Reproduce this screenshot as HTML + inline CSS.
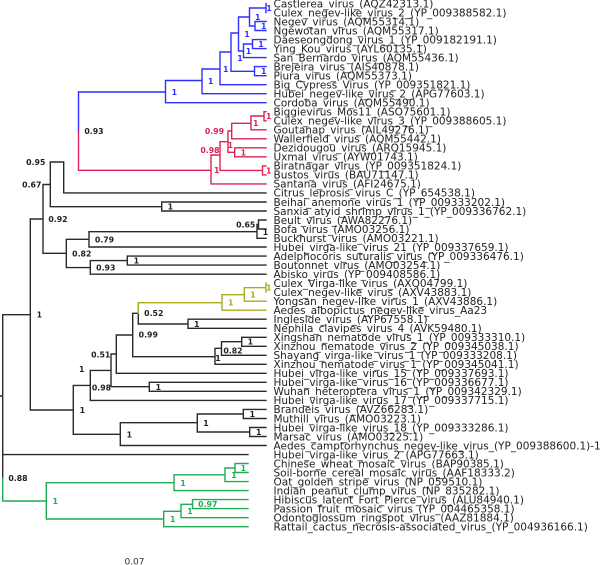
<!DOCTYPE html>
<html><head><meta charset="utf-8"><style>
html,body{margin:0;padding:0;background:#fff}
svg{display:block}
.t{font:10.5px "DejaVu Sans",sans-serif;fill:#222}
.s{font:bold 7.8px "DejaVu Sans",sans-serif}
.l{fill:none;stroke-width:1.4;stroke-linecap:square}
</style></head><body>
<svg width="600" height="565" viewBox="0 0 600 565" xmlns="http://www.w3.org/2000/svg">
<path class="l" stroke="#2a2a2a" d="M0 396H2.7M2.7 314.7V478M2.7 314.7H30.3M30.3 219V410M30.3 219H43M43 184.5V253.3M43 184.5H50.3M50.3 162V206.7M50.3 162H63.7M63.7 162V192.9H266M50.3 206.7H161.7M161.7 202V211M161.7 202H266M161.7 211H266M43 253.3H66.3M66.3 239.3V267.6M66.3 239.3H89M89 231.7V247H266M89 231.7H257M257 224.5V238.3H266M257 224.5H258.5M258.5 220V229M258.5 220H266M258.5 229H266M66.3 267.6H90.3M90.3 260.6V274.2H266M90.3 260.6H127.3M127.3 256.1V265.1M127.3 256.1H266M127.3 265.1H266M138.3 313.3V324H188M132.7 313.3V356.7M132.7 313.3H138.3M188 319.2V328.3M188 319.2H266M188 328.3H266M132.7 356.7H215M215 348.3V364.3H266M215 348.3H221.5M221.5 341.7V355.3H266M221.5 341.7H241.7M241.7 337.3V346.3M241.7 337.3H266M241.7 346.3H266M116.3 335V373.3H266M116.3 335H132.7M111 354V386.7M111 354H116.3M111 386.7H149.3M149.3 382.3V391.3M149.3 382.3H266M149.3 391.3H266M90.3 370.4V400.4H266M90.3 370.4H111M73.3 385.4V434.3M73.3 385.4H90.3M30.3 410H73.3M73.3 434.3H120.3M120.3 422.7V445.5H266M120.3 422.7H197.3M197.3 414V432M197.3 414H243.3M243.3 409.4V418.5M243.3 409.4H266M243.3 418.5H266M197.3 432H249.7M249.7 427.5V436.5M249.7 427.5H266M249.7 436.5H266M120.3 434.3H120.3M2.7 454.6H248"/>
<path class="l" stroke="#2f2fff" d="M78.5 92V131M78.5 92H165.5M165.5 80.5V102.7H266M165.5 80.5H202M202 69V93.7H266M202 69H220M220 52V84.7H266M220 52H231M231 33V71.3M231 33H238.5M238.5 17V51M238.5 17H249.5M249.5 8V26M249.5 8H266M266 3.5V12.5M249.5 26H255M255 21.5V30.5M255 21.5H266M255 30.5H266M238.5 51H243.5M243.5 44V57.6H266M243.5 44H252.5M252.5 39.6V48.6M252.5 39.6H266M252.5 48.6H266M231 71.3H254.5M254.5 66.6V75.7M254.5 66.6H266M254.5 75.7H266"/>
<path class="l" stroke="#dd2255" d="M78.5 131V170.3H211M211 155V183.9H266M211 155H220M220 141.7V170.4M220 141.7H228M228 131V152.3M228 131H231.7M231.7 123.3V138.8H266M231.7 123.3H251M251 116V129.8H266M251 116H264M264 111.7V120.8M264 111.7H266M264 120.8H266M228 152.3H234.7M234.7 147.8V156.8M234.7 147.8H266M234.7 156.8H266M220 170.4H262.5M262.5 165.9V174.9M262.5 165.9H266M262.5 174.9H266"/>
<path class="l" stroke="#aaaa22" d="M138.3 313.3V302.7H222M222 294.7V310.2H266M222 294.7H244.3M244.3 287.7V301.2H266M244.3 287.7H266M266 283.1V292"/>
<path class="l" stroke="#22aa55" d="M2.7 478V501H46.3M46.3 482.7V519M46.3 482.7H174M174 474.8V490.6H248M174 474.8H225M225 468V481.6H248M225 468H235M235 463.5V472.5M235 463.5H248M235 472.5H248M46.3 519H163.7M163.7 511.3V526.7H248M163.7 511.3H181M181 504.3V517.7H248M181 504.3H192.5M192.5 499.6V508.6M192.5 499.6H248M192.5 508.6H248"/>
<g class="t">
<text class="t" x="273.5" y="7.3">Castlerea_virus_(AQZ42313.1)</text>
<text class="t" x="273.5" y="16.3">Culex_negev-like_virus_2_(YP_009388582.1)</text>
<text class="t" x="273.5" y="25.3">Negev_virus_(AQM55314.1)</text>
<text class="t" x="273.5" y="34.4">Ngewotan_virus_(AQM55317.1)</text>
<text class="t" x="273.5" y="43.4">Daeseongdong_virus_1_(YP_009182191.1)</text>
<text class="t" x="273.5" y="52.4">Ying_Kou_virus_(AYL60135.1)</text>
<text class="t" x="273.5" y="61.4">San_Bernardo_virus_(AQM55436.1)</text>
<text class="t" x="273.5" y="70.4">Brejeira_virus_(AIS40878.1)</text>
<text class="t" x="273.5" y="79.5">Piura_virus_(AQM55373.1)</text>
<text class="t" x="273.5" y="88.5">Big_Cypress_Virus_(YP_009351821.1)</text>
<text class="t" x="273.5" y="97.5">Hubei_negev-like_virus_2_(APG77603.1)</text>
<text class="t" x="273.5" y="106.5">Cordoba_virus_(AQM55490.1)</text>
<text class="t" x="273.5" y="115.5">Biggievirus_Mos11_(ASO75601.1)</text>
<text class="t" x="273.5" y="124.6">Culex_negev-like_virus_3_(YP_009388605.1)</text>
<text class="t" x="273.5" y="133.6">Goutanap_virus_(AIL49276.1)</text>
<text class="t" x="273.5" y="142.6">Wallerfield_virus_(AQM55442.1)</text>
<text class="t" x="273.5" y="151.6">Dezidougou_virus_(ARQ15945.1)</text>
<text class="t" x="273.5" y="160.6">Uxmal_virus_(AYW01743.1)</text>
<text class="t" x="273.5" y="169.7">Biratnagar_virus_(YP_009351824.1)</text>
<text class="t" x="273.5" y="178.7">Bustos_virus_(BAU71147.1)</text>
<text class="t" x="273.5" y="187.7">Santana_virus_(AFI24675.1)</text>
<text class="t" x="273.5" y="196.7">Citrus_leprosis_virus_C_(YP_654538.1)</text>
<text class="t" x="273.5" y="205.8">Beihai_anemone_virus_1_(YP_009333202.1)</text>
<text class="t" x="273.5" y="214.8">Sanxia_atyid_shrimp_virus_1_(YP_009336762.1)</text>
<text class="t" x="273.5" y="223.8">Beult_virus_(AWA82276.1)</text>
<text class="t" x="273.5" y="232.8">Bofa_virus_(AMO03256.1)</text>
<text class="t" x="273.5" y="241.8">Buckhurst_virus_(AMO03221.1)</text>
<text class="t" x="273.5" y="250.9">Hubei_virga-like_virus_21_(YP_009337659.1)</text>
<text class="t" x="273.5" y="259.9">Adelphocoris_suturalis_virus_(YP_009336476.1)</text>
<text class="t" x="273.5" y="268.9">Boutonnet_virus_(AMO03254.1)</text>
<text class="t" x="273.5" y="277.9">Abisko_virus_(YP_009408586.1)</text>
<text class="t" x="273.5" y="286.9">Culex_Virga-like_virus_(AXQ04799.1)</text>
<text class="t" x="273.5" y="296">Culex_negev-like_virus_(AXV43883.1)</text>
<text class="t" x="273.5" y="305">Yongsan_negev-like_virus_1_(AXV43886.1)</text>
<text class="t" x="273.5" y="314">Aedes_albopictus_negev-like_virus_Aa23</text>
<text class="t" x="273.5" y="323">Ingleside_virus_(AYP67558.1)</text>
<text class="t" x="273.5" y="332.1">Nephila_clavipes_virus_4_(AVK59480.1)</text>
<text class="t" x="273.5" y="341.1">Xingshan_nematode_virus_1_(YP_009333310.1)</text>
<text class="t" x="273.5" y="350.1">Xinzhou_nematode_virus_2_(YP_009345038.1)</text>
<text class="t" x="273.5" y="359.1">Shayang_virga-like_virus_1_(YP_009333208.1)</text>
<text class="t" x="273.5" y="368.1">Xinzhou_nematode_virus_1_(YP_009345041.1)</text>
<text class="t" x="273.5" y="377.2">Hubei_virga-like_virus_15_(YP_009337693.1)</text>
<text class="t" x="273.5" y="386.2">Hubei_virga-like_virus_16_(YP_009336677.1)</text>
<text class="t" x="273.5" y="395.2">Wuhan_heteroptera_virus_1_(YP_009342329.1)</text>
<text class="t" x="273.5" y="404.2">Hubei_virga-like_virus_17_(YP_009337715.1)</text>
<text class="t" x="273.5" y="413.2">Brandeis_virus_(AVZ66283.1)</text>
<text class="t" x="273.5" y="422.3">Muthill_virus_(AMO03223.1)</text>
<text class="t" x="273.5" y="431.3">Hubei_virga-like_virus_18_(YP_009333286.1)</text>
<text class="t" x="273.5" y="440.3">Marsac_virus_(AMO03225.1)</text>
<text class="t" x="273.5" y="449.3">Aedes_camptorhynchus_negev-like_virus_(YP_009388600.1)-1</text>
<text class="t" x="273.5" y="458.3">Hubei_virga-like_virus_2_(APG77663.1)</text>
<text class="t" x="273.5" y="467.4">Chinese_wheat_mosaic_virus_(BAP90385.1)</text>
<text class="t" x="273.5" y="476.4">Soil-borne_cereal_mosaic_virus_(AAF18333.2)</text>
<text class="t" x="273.5" y="485.4">Oat_golden_stripe_virus_(NP_059510.1)</text>
<text class="t" x="273.5" y="494.4">Indian_peanut_clump_virus_(NP_835282.1)</text>
<text class="t" x="273.5" y="503.4">Hibiscus_latent_Fort_Pierce_virus_(ALU84940.1)</text>
<text class="t" x="273.5" y="512.5">Passion_fruit_mosaic_virus_(YP_004465358.1)</text>
<text class="t" x="273.5" y="521.5">Odontoglossum_ringspot_virus_(AAZ81884.1)</text>
<text class="t" x="273.5" y="530.5">Rattail_cactus_necrosis-associated_virus_(YP_004936166.1)</text>
</g>
<g class="s" fill="#2f2fff" text-anchor="middle">
<text class="s" x="269" y="11">1</text><text class="s" x="257.7" y="20">1</text><text class="s" x="263.7" y="29">1</text><text class="s" x="247" y="37">1</text><text class="s" x="261" y="47">1</text><text class="s" x="248.5" y="54">1</text><text class="s" x="240" y="61">1</text><text class="s" x="263.7" y="74">1</text><text class="s" x="225.7" y="72">1</text><text class="s" x="210.7" y="84">1</text><text class="s" x="174.3" y="95">1</text>
</g>
<g class="s" fill="#dd2255" text-anchor="middle">
<text class="s" x="214.5" y="134">0.99</text><text class="s" x="210" y="153">0.98</text><text class="s" x="216.7" y="173">1</text><text class="s" x="255.7" y="126">1</text><text class="s" x="230.3" y="148">1</text><text class="s" x="243.3" y="155.5">1</text><text class="s" x="268.7" y="119">1</text><text class="s" x="268.7" y="173.5">1</text>
</g>
<g class="s" fill="#a8a820" text-anchor="middle">
<text class="s" x="230.7" y="305.7">1</text><text class="s" x="253" y="297.7">1</text><text class="s" x="268.7" y="290.7">1</text>
</g>
<g class="s" fill="#22aa55" text-anchor="middle">
<text class="s" x="55.3" y="504">1</text><text class="s" x="183" y="486">1</text><text class="s" x="243.3" y="471">1</text><text class="s" x="234" y="478">1</text><text class="s" x="207.8" y="507">0.97</text><text class="s" x="190" y="514">1</text><text class="s" x="172.7" y="522">1</text>
</g>
<g class="s" fill="#222" text-anchor="middle">
<text class="s" x="94" y="134">0.93</text><text class="s" x="35.8" y="165">0.95</text><text class="s" x="31.8" y="187.5">0.67</text><text class="s" x="58" y="222">0.92</text><text class="s" x="245.7" y="227.7">0.65</text><text class="s" x="265.5" y="235">1</text><text class="s" x="104.5" y="242.3">0.79</text><text class="s" x="81.8" y="256.3">0.82</text><text class="s" x="105.8" y="270.5">0.93</text><text class="s" x="136.3" y="263.3">1</text><text class="s" x="170.3" y="209.7">1</text><text class="s" x="39.3" y="317.7">1</text><text class="s" x="153.8" y="316">0.52</text><text class="s" x="148.3" y="337.7">0.99</text><text class="s" x="233" y="353.7">0.82</text><text class="s" x="218" y="361">1</text><text class="s" x="250.3" y="344.7">1</text><text class="s" x="196.7" y="327">1</text><text class="s" x="100.7" y="357.3">0.51</text><text class="s" x="81.7" y="372">1</text><text class="s" x="101.5" y="390.3">0.98</text><text class="s" x="158.3" y="390">1</text><text class="s" x="82.3" y="413">1</text><text class="s" x="129.3" y="437.5">1</text><text class="s" x="206" y="426">1</text><text class="s" x="252.3" y="417">1</text><text class="s" x="258.7" y="435">1</text><text class="s" x="18" y="481">0.88</text>
</g>
<text x="134.5" y="564.5" font-family="DejaVu Sans, sans-serif" font-size="9" fill="#333" text-anchor="middle">0.07</text>
</svg>
</body></html>
